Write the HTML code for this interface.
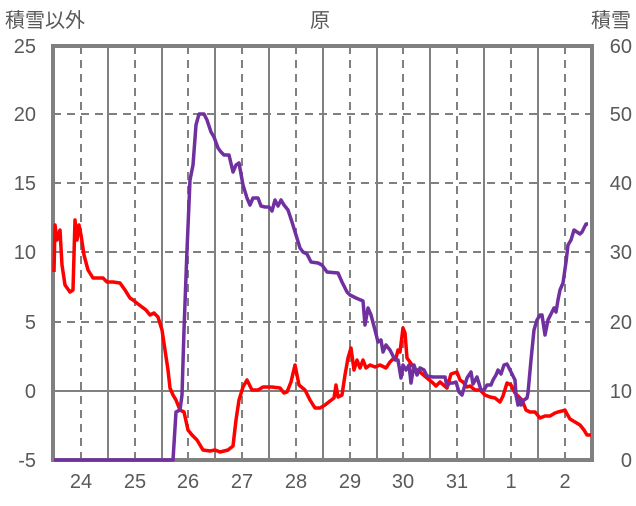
<!DOCTYPE html>
<html><head><meta charset="utf-8"><style>
body{margin:0;background:#fff}
svg text{font-family:"Liberation Sans","Noto Sans CJK JP",sans-serif;fill:#595959}
</style></head><body>
<svg width="636" height="501" viewBox="0 0 636 501" xmlns="http://www.w3.org/2000/svg">
<g font-size="20">
<text x="5" y="27">積雪以外</text>
<text x="320" y="27" text-anchor="middle">原</text>
<text x="631" y="27" text-anchor="end">積雪</text>
</g>
<g stroke="#808080" stroke-width="2" stroke-dasharray="8,6" fill="none">
<line x1="53" y1="114" x2="592" y2="114"/><line x1="53" y1="183" x2="592" y2="183"/>
<line x1="53" y1="252" x2="592" y2="252"/><line x1="53" y1="322" x2="592" y2="322"/>
<line x1="81" y1="46" x2="81" y2="460"/><line x1="135" y1="46" x2="135" y2="460"/>
<line x1="188" y1="46" x2="188" y2="460"/><line x1="242" y1="46" x2="242" y2="460"/>
<line x1="296" y1="46" x2="296" y2="460"/><line x1="350" y1="46" x2="350" y2="460"/>
<line x1="403" y1="46" x2="403" y2="460"/><line x1="457" y1="46" x2="457" y2="460"/>
<line x1="511" y1="46" x2="511" y2="460"/><line x1="565" y1="46" x2="565" y2="460"/>
</g>
<g stroke="#808080" stroke-width="2" fill="none">
<line x1="53" y1="391" x2="592" y2="391"/>
<line x1="108" y1="46" x2="108" y2="460"/><line x1="162" y1="46" x2="162" y2="460"/>
<line x1="215" y1="46" x2="215" y2="460"/><line x1="269" y1="46" x2="269" y2="460"/>
<line x1="323" y1="46" x2="323" y2="460"/><line x1="377" y1="46" x2="377" y2="460"/>
<line x1="430" y1="46" x2="430" y2="460"/><line x1="484" y1="46" x2="484" y2="460"/>
<line x1="538" y1="46" x2="538" y2="460"/>
</g>
<rect x="53" y="46" width="539" height="414" fill="none" stroke="#808080" stroke-width="4"/>
<polyline fill="none" stroke="#ff0000" stroke-width="3.5" stroke-linejoin="round" points="54,272 55,225 57,240 60,230 62,265 65,285 70,292 73,290 75,220 77,240 79,225 81,235 84,255 88,270 93,278 97,278 103,278 107,282 113,282 120,283 125,290 130,298 133,300 138,304 142,307 146,310 150,315 154,313 158,317 162,330 165,350 168,370 170,388 173,395 176,400 180,410 184,412 188,430 192,435 197,440 203,450 210,451 215,450 220,452 228,450 233,446 236,420 239,400 243,387 247,380 252,390 258,390 263,387 272,387 280,388 284,393 287,392 291,382 295,365 299,385 305,390 310,400 315,408 320,408 325,405 330,401 334,398 336,385 338,397 342,395 345,375 348,358 351,348 354,370 357,360 360,368 363,360 366,368 370,365 375,367 380,365 386,368 390,362 394,358 396,358 398,350 400,352 403,328 405,333 407,358 410,362 414,368 420,372 427,378 433,383 436,386 440,382 447,388 451,374 457,372 460,380 463,382 467,387 470,386 475,390 480,390 485,395 490,397 495,398 500,402 503,396 507,383 511,385 515,393 518,396 522,400 526,410 530,412 535,412 540,418 545,416 550,416 555,413 558,412 562,411 565,410 567,414 570,419 575,422 580,425 584,430 587,435 591,435"/>
<polyline fill="none" stroke="#7030a0" stroke-width="3.5" stroke-linejoin="round" points="54,460 173,460 176,412 180,410 182,395 184,330 187,250 190,180 193,165 196,125 199,114 204,114 207,120 211,132 214,137 218,148 221,152 224,155 229,155 233,172 236,165 239,163 243,185 247,198 250,205 253,198 258,198 261,206 265,207 269,207 272,211 275,200 278,206 281,200 284,205 288,210 292,222 296,235 300,248 303,252 307,254 311,262 318,263 322,265 327,272 338,273 342,282 347,292 350,295 356,298 363,301 365,325 368,308 371,315 375,330 378,342 381,340 383,352 386,345 390,350 395,360 398,360 401,378 403,365 406,370 409,365 411,383 414,365 417,375 420,368 424,370 427,376 433,377 445,377 447,386 450,383 453,383 456,382 459,392 462,395 467,378 471,372 473,384 477,377 481,390 484,390 487,385 491,385 493,380 496,375 498,370 501,374 504,365 507,364 510,370 512,374 515,380 516,395 518,405 520,398 521,405 524,400 527,398 528,393 531,360 534,330 537,320 540,315 542,315 545,335 548,320 552,312 554,308 556,312 558,300 560,290 563,283 566,262 568,245 571,240 574,230 577,232 580,234 582,232 584,228 586,224 588,224"/>
<g font-size="20" text-anchor="end">
<text x="36" y="53">25</text><text x="36" y="121">20</text><text x="36" y="190">15</text>
<text x="36" y="259">10</text><text x="36" y="329">5</text><text x="36" y="398">0</text><text x="36" y="467">-5</text>
</g>
<g font-size="20" text-anchor="end">
<text x="632" y="53">60</text><text x="632" y="121">50</text><text x="632" y="190">40</text>
<text x="632" y="259">30</text><text x="632" y="329">20</text><text x="632" y="398">10</text><text x="632" y="467">0</text>
</g>
<g font-size="20" text-anchor="middle">
<text x="81" y="488">24</text><text x="135" y="488">25</text><text x="188" y="488">26</text>
<text x="242" y="488">27</text><text x="296" y="488">28</text><text x="350" y="488">29</text>
<text x="403" y="488">30</text><text x="457" y="488">31</text><text x="511" y="488">1</text><text x="565" y="488">2</text>
</g>
</svg>
</body></html>
